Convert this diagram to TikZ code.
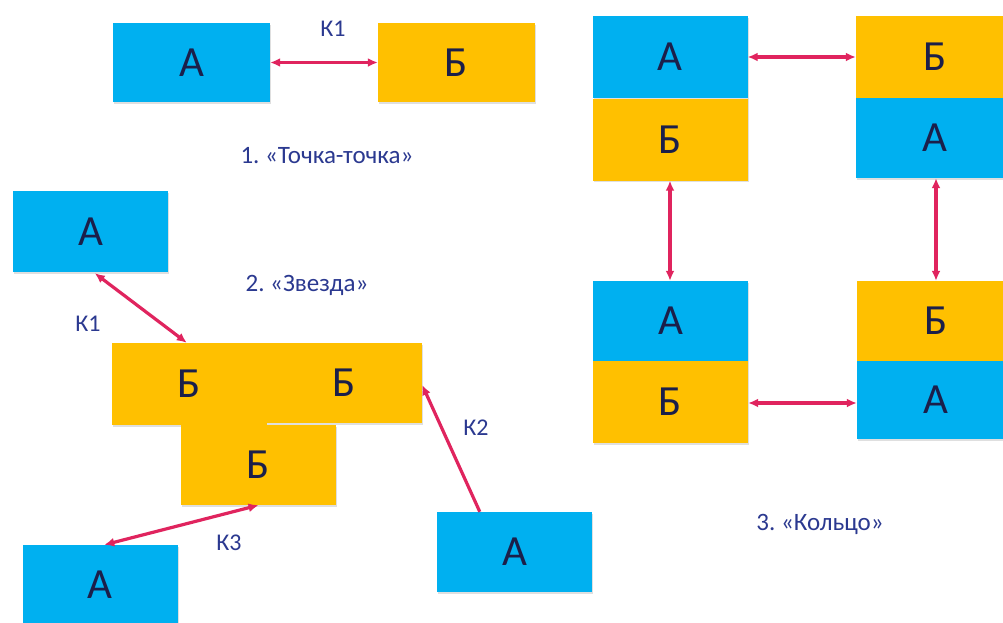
\documentclass[tikz,border=0pt]{standalone}
\usepackage{fontspec}
\setmainfont{Carlito}
\frenchspacing
\usetikzlibrary{arrows.meta,calc,shadows}
\definecolor{cblue}{HTML}{00B0F0}
\definecolor{cyel}{HTML}{FFC000}
\definecolor{cink}{HTML}{1B1F4A}
\definecolor{clab}{HTML}{2B3990}
\definecolor{carr}{HTML}{E0245E}
\tikzset{
  box/.style={rectangle, inner sep=0pt, minimum width=156pt, minimum height=80pt,
    text=cink, font=\fontsize{43}{43}\selectfont,
    drop shadow={shadow xshift=1pt, shadow yshift=-1.5pt, opacity=0.25}},
  abox/.style={box, fill=cblue},
  bbox/.style={box, fill=cyel},
  lab/.style={text=clab, font=\fontsize{24}{24}\selectfont, inner sep=0pt},
  captxt/.style={text=clab, font=\fontsize{25}{25}\selectfont, inner sep=0pt},
  link/.style={draw=carr, line width=3.2pt, {Latex[length=10pt,width=9pt]}-{Latex[length=10pt,width=9pt]}},
  linkone/.style={draw=carr, line width=3.2pt, -{Latex[length=10pt,width=9pt]}}
}
\begin{document}
\begin{tikzpicture}[x=1pt,y=-1pt]
\useasboundingbox[fill=white] (0,0) rectangle (1003,622);
% 1. point-to-point
\node[abox, minimum width=157pt, minimum height=79pt] (PA) at (191.5,62.5) {А};
\node[bbox, minimum width=157pt, minimum height=79pt] (PB) at (456.5,62.5) {Б};
\draw[link] (PA.east) -- (PB.west);
\node[lab] (PK) at (333,29) {К1};
\node[captxt] (PC) at (327,156) {1. «Точка-точка»};
% 2. star
\node[abox, minimum width=155pt, minimum height=81pt] (SA1) at (90.5,231.5) {А};
\node[bbox, minimum width=155pt, minimum height=82pt] (SB1) at (189.5,384) {Б};
\node[bbox, minimum width=155pt, minimum height=80pt] (SB2) at (344.5,383) {Б};
\node[bbox, minimum width=155pt, minimum height=80pt] (SB3) at (258.5,465) {Б};
\node[abox, minimum width=155pt, minimum height=80pt] (SA2) at (100,585) {А};
\node[abox, minimum width=155pt, minimum height=80pt] (SA3) at (514.5,552) {А};
\coordinate (K1a) at ($(SA1.south west)+(82,1)$);
\coordinate (K1b) at ($(SB1.north west)+(75,0)$);
\coordinate (K2a) at ($(SA3.north west)+(43,0)$);
\coordinate (K2b) at ($(SB2.east)+(0,2)$);
\coordinate (K3a) at ($(SA2.north west)+(82,0)$);
\coordinate (K3b) at (SB3.south);
\draw[link] (K1a) -- (K1b);
\draw[linkone] (K2a) -- (K2b);
\draw[link] (K3a) -- (K3b);
\node[lab] (SK1) at (88,324) {К1};
\node[lab] (SK2) at (476,428) {К2};
\node[lab] (SK3) at (229,543) {К3};
\node[captxt] (SC) at (307,285) {2. «Звезда»};
% 3. ring
\node[abox, minimum width=155pt, minimum height=82pt] (RA1) at (670,57) {А};
\node[bbox, minimum width=155pt, minimum height=82pt] (RB1) at (670,139.5) {Б};
\node[bbox, minimum width=158pt, minimum height=82pt] (RB2) at (935,57) {Б};
\node[abox, minimum width=158pt, minimum height=80pt] (RA2) at (935,138) {А};
\node[abox, minimum width=155pt, minimum height=80pt] (RA3) at (670.5,321) {А};
\node[bbox, minimum width=155pt, minimum height=82pt] (RB3) at (670.5,402) {Б};
\node[bbox, minimum width=158pt, minimum height=80pt] (RB4) at (936,321) {Б};
\node[abox, minimum width=158pt, minimum height=78pt] (RA4) at (936,400) {А};
\draw[link] (RA1.east) -- (RA1.east -| RB2.west);
\draw[link] (RB1.south) -- (RB1.south |- RA3.north);
\draw[link] (RA2.south -| RB4.north) -- (RB4.north);
\draw[link] ($(RB3.east)+(0,1)$) -- ($(RB3.east -| RA4.west)+(0,1)$);
\node[captxt] (RC) at (820,524) {3. «Кольцо»};
\end{tikzpicture}
\end{document}
